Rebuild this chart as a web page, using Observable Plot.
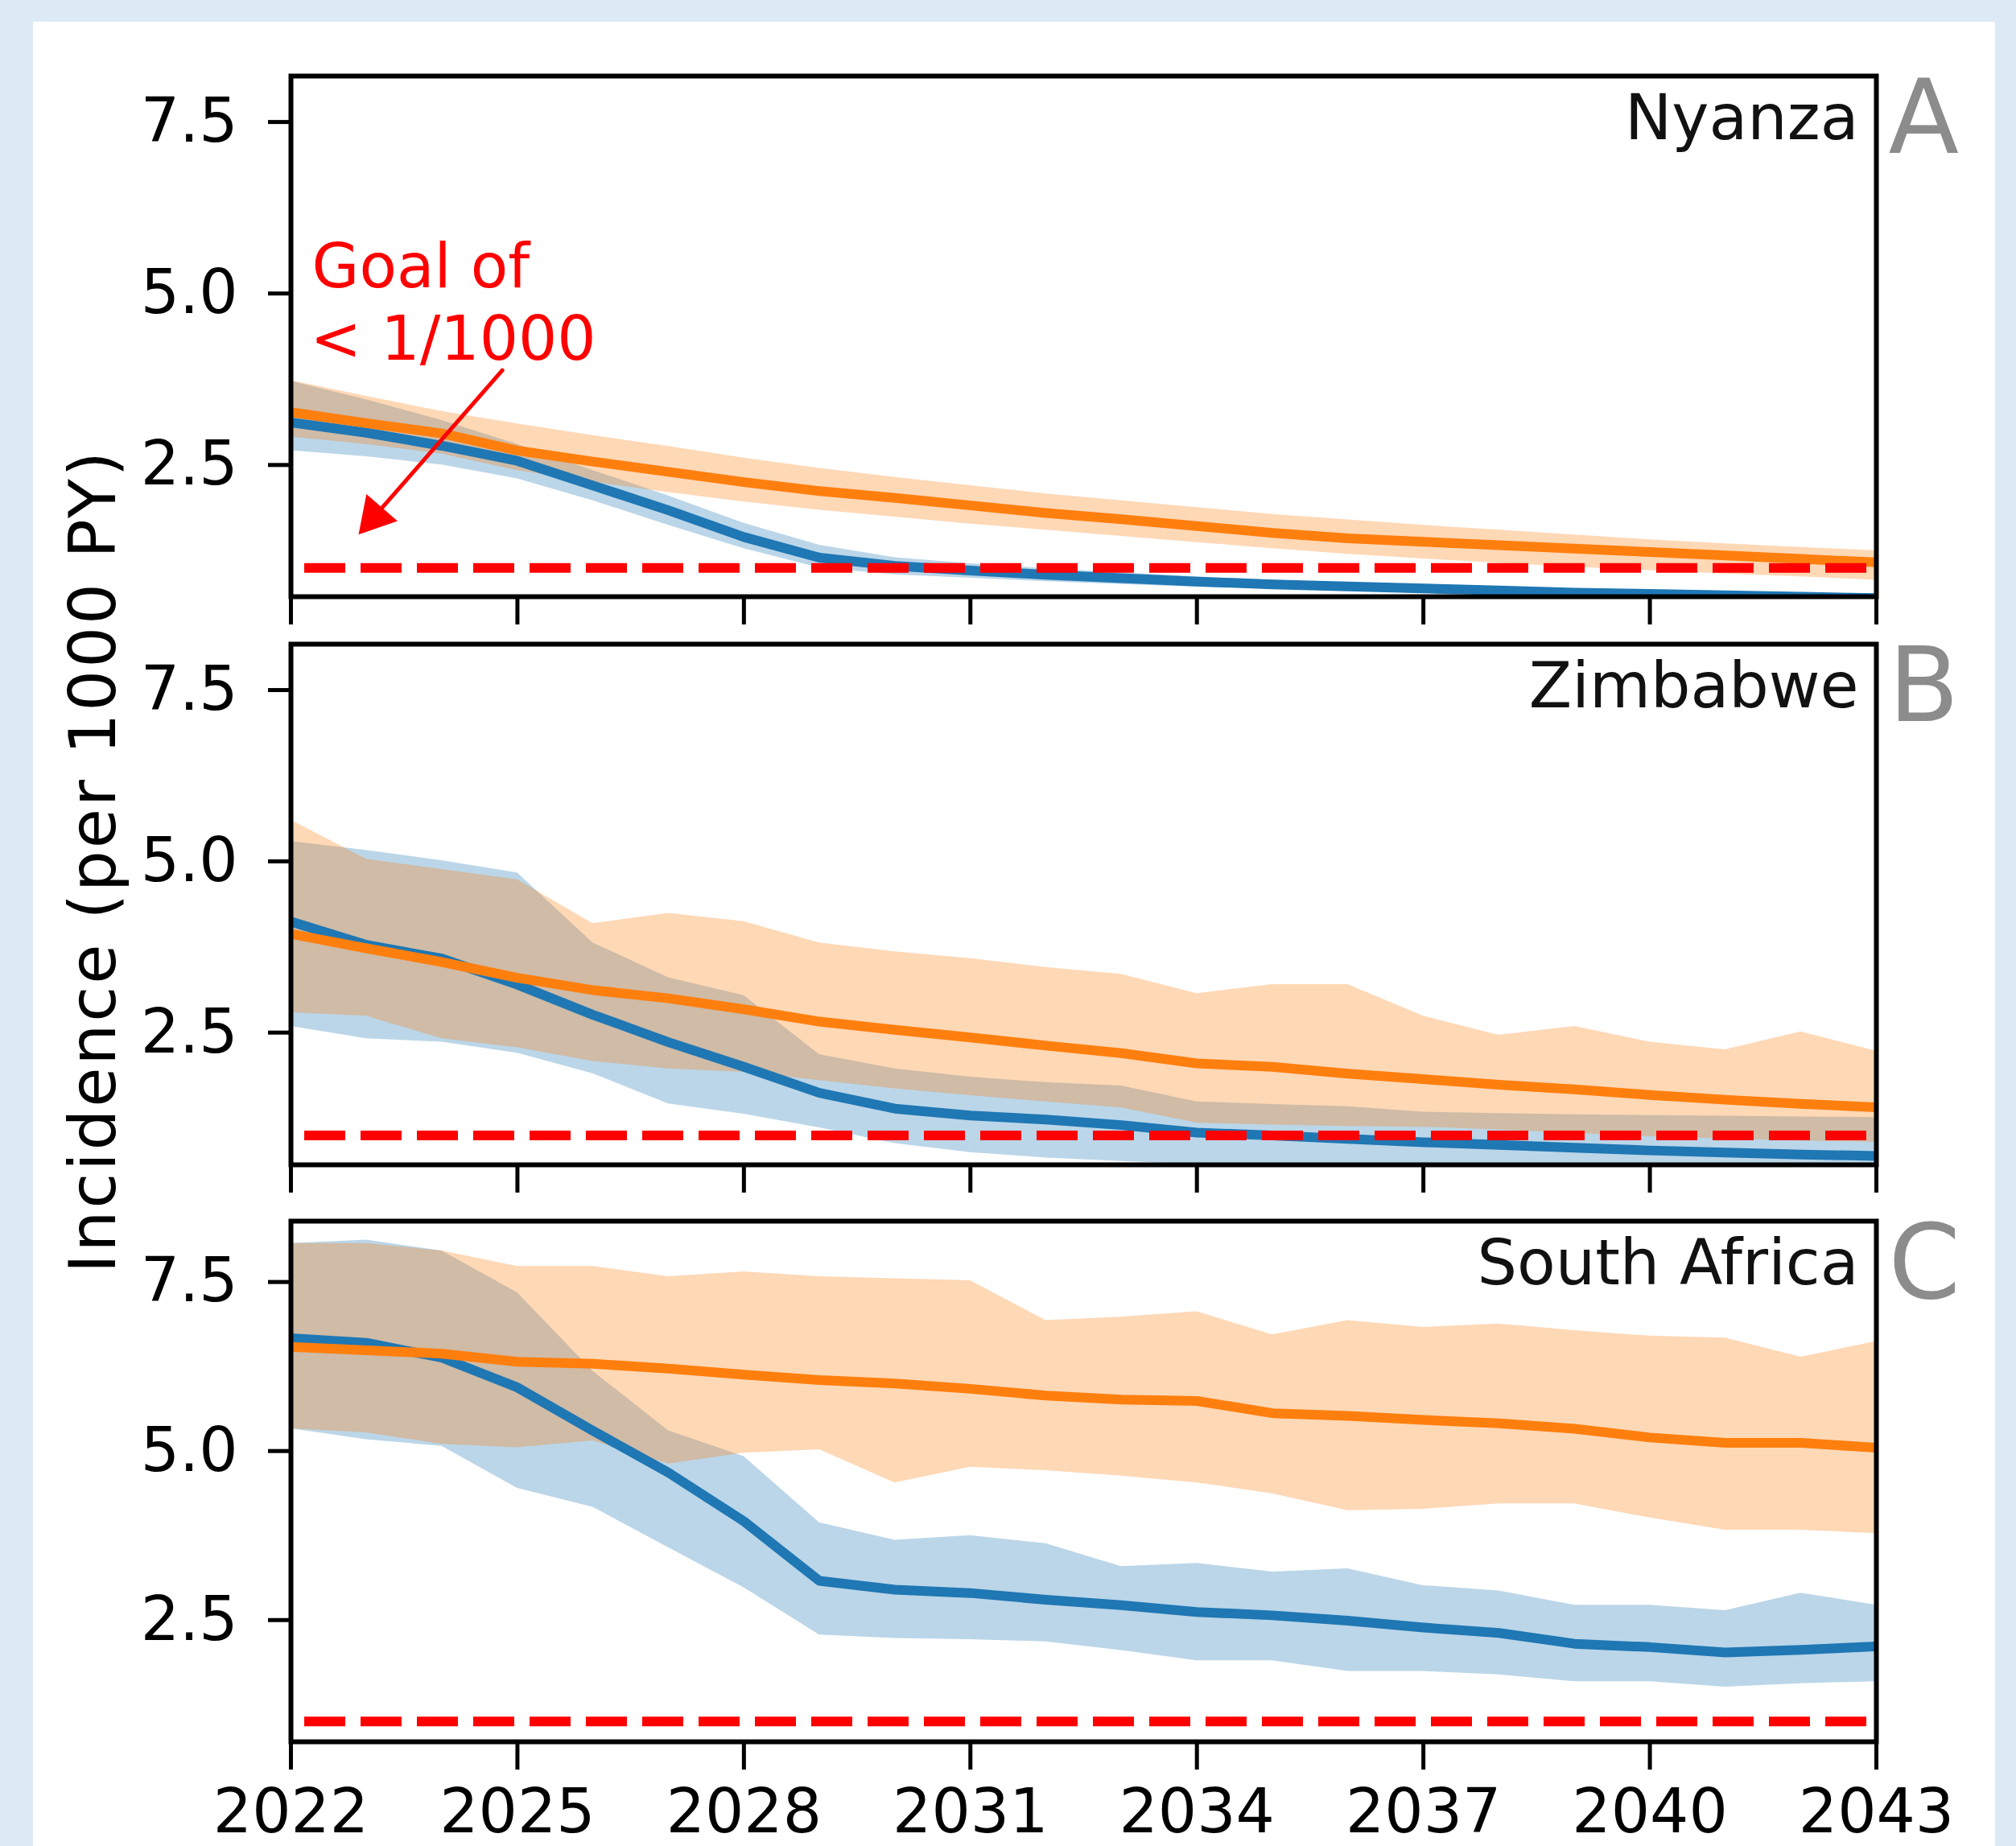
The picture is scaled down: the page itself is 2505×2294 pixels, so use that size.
<!DOCTYPE html>
<html>
<head>
<meta charset="utf-8">
<script src="https://cdn.jsdelivr.net/npm/d3@7"></script>
<script src="https://cdn.jsdelivr.net/npm/@observablehq/plot@0.6"></script>
<style>
html, body { margin: 0; padding: 0; background: #dbeaf5; }
#fig { position: relative; width: 2505px; height: 2294px; overflow: hidden; background: #dbeaf5; font-family: "DejaVu Sans", sans-serif; }
#card { position: absolute; left: 41px; top: 27px; width: 2438px; height: 2320px; background: #ffffff; }
.panel { position: absolute; left: 0; }
.panel svg { overflow: visible; }
#ylab { position: absolute; left: 115px; top: 1070px; transform: translate(-50%, -50%) rotate(-90deg);
        white-space: nowrap; font-family: "DejaVu Sans", sans-serif; font-size: 80px; letter-spacing: 3px; color: #000; }
</style>
</head>
<body>
<div id="fig">
  <div id="card"></div>
  <div id="ylab">Incidence (per 1000 PY)</div>
</div>
<script>
// ---------------- data ----------------
const years = [2022, 2023, 2024, 2025, 2026, 2027, 2028, 2029, 2030, 2031, 2032,
               2033, 2034, 2035, 2036, 2037, 2038, 2039, 2040, 2041, 2042, 2043];
const xTickYears = [2022, 2025, 2028, 2031, 2034, 2037, 2040, 2043];
const yTickValues = [2.5, 5.0, 7.5];
const goal = [1.0];

const regionNames = ["Nyanza", "Zimbabwe", "South Africa"];
const panelLetters = ["A", "B", "C"];
const annotationLines = ["Goal of", "< 1/1000"];
const annotationArrow = [{x1: 2024.8, y1: 3.88, x2: 2022.9, y2: 1.49}];

// Panel A — Nyanza
const blueMedA   = [3.12, 2.97, 2.78, 2.56, 2.20, 1.84, 1.45, 1.15, 1.03, 0.96, 0.90, 0.85, 0.80, 0.76, 0.73, 0.70, 0.67, 0.64, 0.62, 0.60, 0.58, 0.56];
const blueLoA    = [2.71, 2.62, 2.50, 2.30, 1.98, 1.62, 1.28, 1.00, 0.90, 0.85, 0.80, 0.76, 0.72, 0.69, 0.66, 0.63, 0.60, 0.58, 0.56, 0.54, 0.53, 0.52];
const blueHiA    = [3.72, 3.45, 3.15, 2.80, 2.42, 2.05, 1.65, 1.33, 1.15, 1.06, 0.99, 0.93, 0.87, 0.82, 0.78, 0.75, 0.72, 0.69, 0.66, 0.64, 0.62, 0.60];
const orangeMedA = [3.27, 3.11, 2.96, 2.71, 2.55, 2.40, 2.25, 2.12, 2.02, 1.91, 1.80, 1.71, 1.61, 1.51, 1.43, 1.38, 1.33, 1.28, 1.23, 1.18, 1.13, 1.08];
const orangeLoA  = [2.91, 2.80, 2.66, 2.42, 2.25, 2.10, 1.96, 1.84, 1.74, 1.64, 1.55, 1.46, 1.37, 1.28, 1.20, 1.13, 1.07, 1.01, 0.96, 0.91, 0.87, 0.82];
const orangeHiA  = [3.73, 3.50, 3.28, 3.10, 2.93, 2.77, 2.60, 2.45, 2.32, 2.20, 2.08, 1.98, 1.88, 1.78, 1.70, 1.62, 1.55, 1.48, 1.41, 1.35, 1.30, 1.25];

// Panel B — Zimbabwe
const blueMedB   = [4.12, 3.78, 3.58, 3.20, 2.76, 2.36, 2.00, 1.62, 1.39, 1.29, 1.23, 1.15, 1.04, 1.00, 0.95, 0.90, 0.86, 0.82, 0.78, 0.75, 0.72, 0.70];
const blueLoB    = [2.59, 2.41, 2.36, 2.20, 1.90, 1.46, 1.31, 1.11, 0.88, 0.75, 0.67, 0.62, 0.58, 0.56, 0.55, 0.54, 0.53, 0.52, 0.51, 0.50, 0.50, 0.50];
const blueHiB    = [5.29, 5.16, 5.01, 4.83, 3.81, 3.30, 3.04, 2.18, 1.97, 1.85, 1.77, 1.72, 1.49, 1.45, 1.42, 1.34, 1.32, 1.30, 1.29, 1.28, 1.27, 1.26];
const orangeMedB = [3.94, 3.73, 3.53, 3.30, 3.12, 3.00, 2.84, 2.66, 2.54, 2.43, 2.31, 2.20, 2.05, 2.00, 1.90, 1.82, 1.74, 1.67, 1.59, 1.52, 1.46, 1.41];
const orangeLoB  = [2.79, 2.74, 2.41, 2.28, 2.08, 1.97, 1.92, 1.80, 1.68, 1.58, 1.49, 1.40, 1.18, 1.15, 1.13, 1.12, 1.08, 1.03, 0.98, 0.95, 0.92, 0.90];
const orangeHiB  = [5.60, 5.03, 4.88, 4.73, 4.09, 4.24, 4.12, 3.81, 3.68, 3.58, 3.45, 3.35, 3.07, 3.20, 3.20, 2.74, 2.46, 2.59, 2.36, 2.25, 2.51, 2.23];

// Panel C — South Africa
const blueMedC   = [6.67, 6.60, 6.38, 5.94, 5.30, 4.68, 3.96, 3.08, 2.95, 2.90, 2.80, 2.72, 2.62, 2.57, 2.49, 2.39, 2.31, 2.15, 2.10, 2.02, 2.06, 2.11];
const blueLoC    = [5.33, 5.17, 5.07, 4.45, 4.17, 3.57, 2.98, 2.28, 2.23, 2.21, 2.18, 2.05, 1.90, 1.90, 1.74, 1.74, 1.69, 1.59, 1.59, 1.51, 1.56, 1.59];
const blueHiC    = [8.07, 8.12, 7.96, 7.34, 6.18, 5.30, 4.92, 3.94, 3.68, 3.75, 3.63, 3.29, 3.34, 3.21, 3.26, 3.01, 2.93, 2.72, 2.72, 2.64, 2.90, 2.72];
const orangeMedC = [6.54, 6.49, 6.44, 6.32, 6.29, 6.22, 6.13, 6.05, 6.00, 5.92, 5.82, 5.76, 5.74, 5.56, 5.52, 5.46, 5.41, 5.33, 5.20, 5.12, 5.12, 5.05];
const orangeLoC  = [5.33, 5.27, 5.10, 5.05, 5.15, 4.81, 4.97, 5.02, 4.53, 4.76, 4.71, 4.63, 4.53, 4.37, 4.12, 4.14, 4.22, 4.22, 4.01, 3.83, 3.83, 3.78];
const orangeHiC  = [8.07, 8.07, 7.96, 7.73, 7.73, 7.58, 7.65, 7.58, 7.55, 7.52, 6.93, 6.98, 7.06, 6.72, 6.93, 6.83, 6.88, 6.78, 6.70, 6.67, 6.39, 6.62];

const yDomains = [[0.58, 8.17], [0.57, 8.17], [0.70, 8.40]];

// ---------------- style ----------------
const BLUE = "#1f77b4", ORANGE = "#ff7f0e";
const FONT = "DejaVu Sans";
const W = 2505, ML = 361, MR = 2505 - 2331, MT = 60, MB = 150, PH = 647;
const frameTops = [94, 800, 1517];

function rows(med, lo, hi) {
  return years.map((year, i) => ({year, med: med[i], lo: lo[i], hi: hi[i]}));
}

const panels = [
  {blue: rows(blueMedA, blueLoA, blueHiA), orange: rows(orangeMedA, orangeLoA, orangeHiA)},
  {blue: rows(blueMedB, blueLoB, blueHiB), orange: rows(orangeMedB, orangeLoB, orangeHiB)},
  {blue: rows(blueMedC, blueLoC, blueHiC), orange: rows(orangeMedC, orangeLoC, orangeHiC)}
];

const fig = document.getElementById("fig");

panels.forEach((p, k) => {
  const last = k === panels.length - 1;
  const marks = [
    Plot.areaY(p.blue, {x: "year", y1: "lo", y2: "hi", fill: BLUE, fillOpacity: 0.3, clip: true}),
    Plot.areaY(p.orange, {x: "year", y1: "lo", y2: "hi", fill: ORANGE, fillOpacity: 0.3, clip: true}),
    Plot.lineY(p.blue, {x: "year", y: "med", stroke: BLUE, strokeWidth: 12, clip: true}),
    Plot.lineY(p.orange, {x: "year", y: "med", stroke: ORANGE, strokeWidth: 12, clip: true}),
    Plot.ruleY(goal, {stroke: "#ff0000", strokeWidth: 12, strokeDasharray: "51,19", insetLeft: 17, clip: true}),
    Plot.frame({stroke: "#000", strokeWidth: 6}),
    Plot.axisY(yTickValues, {tickSize: 28, tickPadding: 38, strokeWidth: 5, tickFormat: d3.format(".1f"),
      fontSize: 76, fontFamily: FONT, fill: "#000", label: null}),
    Plot.axisX(xTickYears, {tickSize: 35, tickPadding: 24, strokeWidth: 5,
      tickFormat: last ? (d => String(d)) : (() => ""),
      fontSize: 76, fontFamily: FONT, fill: "#000", label: null}),
    Plot.text([regionNames[k]], {frameAnchor: "top-right", textAnchor: "end", lineAnchor: "top",
      dx: -22, dy: 23, fontSize: 78, fontFamily: FONT, fill: "#111"}),
    Plot.text([panelLetters[k]], {frameAnchor: "top-right", textAnchor: "start", lineAnchor: "top",
      dx: 15, dy: 5, fontSize: 128, fontFamily: FONT, fill: "#8c8c8c"})
  ];
  if (k === 0) {
    marks.push(
      Plot.text([annotationLines[0]], {frameAnchor: "top-left", textAnchor: "start", lineAnchor: "bottom",
        dx: 26, dy: 262, fontSize: 76, fontFamily: FONT, fill: "#ff0000"}),
      Plot.text([annotationLines[1]], {frameAnchor: "top-left", textAnchor: "start", lineAnchor: "bottom",
        dx: 24, dy: 352, fontSize: 76, fontFamily: FONT, fill: "#ff0000"}),
      Plot.arrow(annotationArrow, {x1: "x1", y1: "y1", x2: "x2", y2: "y2", stroke: "#ff0000",
        strokeWidth: 5, headLength: 0, insetEnd: 22}),
      Plot.dot(annotationArrow, {x: "x2", y: "y2", symbol: "triangle", r: 19, rotate: 221,
        fill: "#ff0000", stroke: "none", dx: 19, dy: -22})
    );
  }
  const chart = Plot.plot({
    width: W, height: MT + PH + MB,
    marginLeft: ML, marginRight: MR, marginTop: MT, marginBottom: MB,
    style: {background: "transparent", fontFamily: FONT, fontSize: "76px", color: "#000", overflow: "visible"},
    x: {domain: [2022, 2043]},
    y: {domain: yDomains[k]},
    marks
  });
  const wrap = document.createElement("div");
  wrap.className = "panel";
  wrap.style.top = (frameTops[k] - MT) + "px";
  wrap.appendChild(chart);
  fig.appendChild(wrap);
});
</script>
</body>
</html>
